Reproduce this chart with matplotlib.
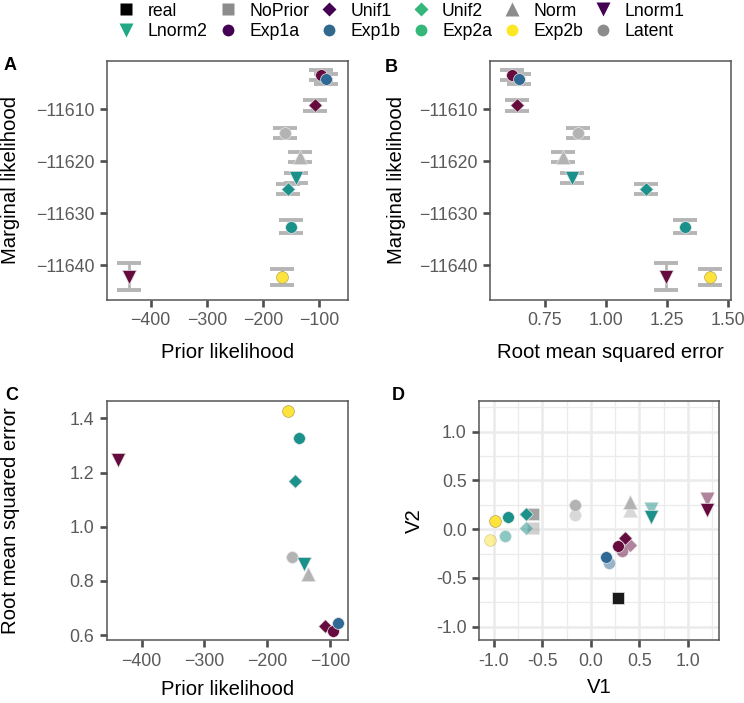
import matplotlib
matplotlib.use("Agg")
import matplotlib.pyplot as plt
from matplotlib.lines import Line2D
from matplotlib.ticker import FormatStrFormatter, MultipleLocator

plt.rcParams["font.family"] = ["Liberation Sans", "DejaVu Sans"]

# panels A-C: one value per model
models = ["Latent", "Unif1", "Unif2", "Norm", "Lnorm1", "Lnorm2", "Exp1a", "Exp1b", "Exp2a", "Exp2b"]
prior_lik = [-160.5, -108, -156, -135, -437.5, -141.5, -96, -88, -149.5, -167]
marg_lik = [-11614.6, -11609.2, -11625.4, -11619.1, -11642.2, -11623.3, -11603.4, -11604.2, -11632.6, -11642.3]
marg_err = [0.96, 1.06, 0.96, 0.96, 2.6, 0.96, 1.0, 1.0, 1.28, 1.54]
rmse = [0.888, 0.635, 1.167, 0.825, 1.246, 0.864, 0.617, 0.645, 1.327, 1.428]

# panel D: two sets of coordinates per model
d_models = ["NoPrior", "Unif1", "Unif2", "Norm", "Lnorm1", "Lnorm2", "Exp1a", "Exp1b", "Exp2a", "Exp2b", "Latent"]
v1_a = [-0.60, 0.35, -0.67, 0.40, 1.20, 0.62, 0.28, 0.16, -0.85, -0.99, -0.16]
v2_a = [0.16, -0.09, 0.16, 0.28, 0.20, 0.12, -0.17, -0.29, 0.12, 0.08, 0.25]
v1_b = [-0.60, 0.40, -0.67, 0.40, 1.20, 0.62, 0.32, 0.19, -0.88, -1.04, -0.16]
v2_b = [0.01, -0.16, 0.01, 0.20, 0.31, 0.21, -0.22, -0.35, -0.07, -0.11, 0.15]
real_v1 = [0.28]
real_v2 = [-0.71]

legend_labels = ["real", "NoPrior", "Unif1", "Unif2", "Norm", "Lnorm1",
                 "Lnorm2", "Exp1a", "Exp1b", "Exp2a", "Exp2b", "Latent"]

shape = {"real": "s", "NoPrior": "s", "Unif1": "D", "Unif2": "D", "Norm": "^",
         "Lnorm1": "v", "Lnorm2": "v", "Exp1a": "o", "Exp1b": "o",
         "Exp2a": "o", "Exp2b": "o", "Latent": "o"}
msize = {"s": 70, "D": 48, "^": 105, "v": 105, "o": 72}

maroon, teal, blue, yellow, grey = "#650b3d", "#1b918b", "#2f6996", "#fde33c", "#b3b3b3"
col = {"real": "#1a1a1a", "NoPrior": "#a3a3a3", "Unif1": maroon, "Unif2": teal,
       "Norm": grey, "Lnorm1": maroon, "Lnorm2": teal, "Exp1a": maroon,
       "Exp1b": blue, "Exp2a": teal, "Exp2b": yellow, "Latent": grey}
leg_col = {"real": "black", "NoPrior": "#8c8c8c", "Unif1": "#440154", "Unif2": "#35b779",
           "Norm": "#8c8c8c", "Lnorm1": "#440154", "Lnorm2": "#22a884", "Exp1a": "#440154",
           "Exp1b": "#31688e", "Exp2a": "#35b779", "Exp2b": "#fde725", "Latent": "#8c8c8c"}


def edge(m):
    return "#b8a552" if m == "Exp2b" else "#e6e6e6"


def style(ax):
    for s in ax.spines.values():
        s.set_color("#555555")
        s.set_linewidth(1.1)
    ax.tick_params(direction="out", length=5, width=1.9, color="#4d4d4d",
                   labelcolor="#5a5a5a", labelsize=12.8, pad=4)


def points(ax, xs, ys, names, alpha=1.0):
    for x, y, m in zip(xs, ys, names):
        mk = shape[m]
        ax.scatter(x, y, s=msize[mk], marker=mk, c=col[m], edgecolors=edge(m),
                   linewidths=0.5, alpha=alpha, zorder=3)


fig = plt.figure(figsize=(7.44, 7.03), dpi=100)
axA = fig.add_axes([0.1434, 0.5733, 0.3247, 0.34])
axB = fig.add_axes([0.6590, 0.5733, 0.3239, 0.34])
axC = fig.add_axes([0.1434, 0.0896, 0.3247, 0.34])
axD = fig.add_axes([0.6442, 0.0896, 0.3218, 0.34])

# A
axA.errorbar(prior_lik, marg_lik, yerr=marg_err, fmt="none", ecolor="#b5b5b5",
             elinewidth=2.0, capsize=8.5, capthick=2.8, zorder=2)
points(axA, prior_lik, marg_lik, models)
axA.set_xlim(-478, -48.4)
axA.set_ylim(-11646.7, -11600.7)
axA.set_xticks([-400, -300, -200, -100])
axA.set_yticks([-11610, -11620, -11630, -11640])
axA.set_xlabel("Prior likelihood")
axA.set_ylabel("Marginal likelihood")

# B
axB.errorbar(rmse, marg_lik, yerr=marg_err, fmt="none", ecolor="#b5b5b5",
             elinewidth=2.0, capsize=8.5, capthick=2.8, zorder=2)
points(axB, rmse, marg_lik, models)
axB.set_xlim(0.527, 1.515)
axB.set_ylim(-11646.7, -11600.7)
axB.set_xticks([0.75, 1.0, 1.25, 1.5])
axB.xaxis.set_major_formatter(FormatStrFormatter("%.2f"))
axB.set_yticks([-11610, -11620, -11630, -11640])
axB.set_xlabel("Root mean squared error")
axB.set_ylabel("Marginal likelihood")

# C
points(axC, prior_lik, rmse, models)
axC.set_xlim(-455.7, -70.9)
axC.set_ylim(0.582, 1.464)
axC.set_xticks([-400, -300, -200, -100])
axC.set_yticks([0.6, 0.8, 1.0, 1.2, 1.4])
axC.yaxis.set_major_formatter(FormatStrFormatter("%.1f"))
axC.set_xlabel("Prior likelihood")
axC.set_ylabel("Root mean squared error")

# D
axD.set_axisbelow(True)
axD.xaxis.set_minor_locator(MultipleLocator(0.25))
axD.yaxis.set_minor_locator(MultipleLocator(0.25))
axD.grid(True, which="major", color="#ebebeb", linewidth=1.8)
axD.grid(True, which="minor", color="#ebebeb", linewidth=0.9)
axD.tick_params(which="minor", length=0)
points(axD, v1_b, v2_b, d_models, alpha=0.5)
points(axD, v1_a, v2_a, d_models)
points(axD, real_v1, real_v2, ["real"])
axD.set_xlim(-1.148, 1.316)
axD.set_ylim(-1.137, 1.315)
axD.set_xticks([-1.0, -0.5, 0.0, 0.5, 1.0])
axD.set_yticks([-1.0, -0.5, 0.0, 0.5, 1.0])
axD.xaxis.set_major_formatter(FormatStrFormatter("%.1f"))
axD.yaxis.set_major_formatter(FormatStrFormatter("%.1f"))
axD.set_xlabel("V1")
axD.set_ylabel("V2")

for ax, ylx, xly in [(axA, -0.398, -0.218), (axB, -0.391, -0.218),
                     (axC, -0.398, -0.209), (axD, -0.273, -0.197)]:
    style(ax)
    ax.xaxis.label.set_size(14.6)
    ax.yaxis.label.set_size(14.6)
    ax.xaxis.label.set_va("center")
    ax.yaxis.label.set_va("center")
    ax.xaxis.set_label_coords(0.5, xly)
    ax.yaxis.set_label_coords(ylx, 0.5)

for lab, px, py in [("A", 10, 65), ("B", 391, 67), ("C", 12, 396), ("D", 398, 396)]:
    fig.text(px / 744, 1 - py / 703, lab, fontsize=13, fontweight="bold",
             ha="center", va="center")

# matplotlib fills legend columns first, so interleave the two rows
order = [legend_labels[i + r * 6] for i in range(6) for r in range(2)]
handles = []
for lab in order:
    mk = shape[lab]
    ms = {"s": 9, "D": 7.5, "^": 10, "v": 10, "o": 8.5}[mk]
    handles.append(Line2D([], [], linestyle="none", marker=mk, markersize=ms,
                          markerfacecolor=leg_col[lab], markeredgecolor="none"))
fig.legend(handles, order, ncol=6, loc="upper left",
           bbox_to_anchor=(115 / 744, 1.0), frameon=False, fontsize=12.7,
           handlelength=1.0, handletextpad=0.71, columnspacing=0.64,
           labelspacing=0.2, borderpad=0.15, borderaxespad=0)

fig.savefig("out.png", dpi=100)
